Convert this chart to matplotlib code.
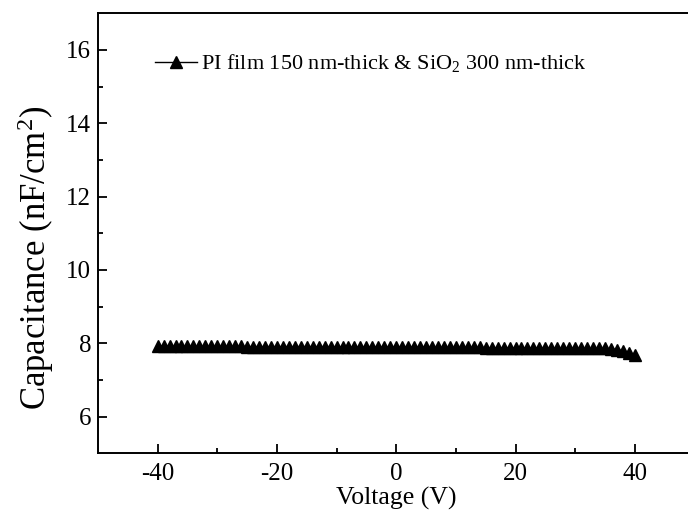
import numpy as np
import matplotlib
matplotlib.use('Agg')
import matplotlib.pyplot as plt

# Data: C-V sweep, 1 V steps
voltage = list(range(-40, 41))
capacitance = [
    7.93, 7.93, 7.93, 7.92, 7.92, 7.92, 7.92, 7.92, 7.92, 7.92,   # -40 .. -31
    7.92, 7.92, 7.92, 7.92, 7.92, 7.91, 7.91, 7.91, 7.91, 7.91,   # -30 .. -21
    7.91, 7.91, 7.91, 7.91, 7.91, 7.91, 7.91, 7.91, 7.91, 7.91,   # -20 .. -11
    7.90, 7.90, 7.90, 7.90, 7.90, 7.90, 7.90, 7.90, 7.90, 7.90,   # -10 .. -1
    7.90, 7.90, 7.90, 7.90, 7.90, 7.90, 7.89, 7.89, 7.89, 7.89,   # 0 .. 9
    7.89, 7.89, 7.89, 7.89, 7.89, 7.88, 7.88, 7.88, 7.88, 7.88,   # 10 .. 19
    7.88, 7.88, 7.88, 7.88, 7.87, 7.87, 7.87, 7.87, 7.87, 7.87,   # 20 .. 29
    7.87, 7.86, 7.86, 7.86, 7.86, 7.86, 7.85, 7.83, 7.80, 7.74,   # 30 .. 39
    7.67,                                                        # 40
]
series_label = r'PI film 150 nm-thick & SiO$_2$ 300 nm-thick'

plt.rcParams['font.family'] = ['Liberation Serif', 'DejaVu Serif']
plt.rcParams['mathtext.fontset'] = 'custom'
plt.rcParams['mathtext.rm'] = 'Liberation Serif'
plt.rcParams['mathtext.it'] = 'Liberation Serif'
plt.rcParams['axes.unicode_minus'] = False  # plain hyphen like the original

fig = plt.figure(figsize=(6.88, 5.18), dpi=100)
# right spine sits just past the image edge (cropped in the original)
ax = fig.add_axes([0.1424, 0.1249, 0.867, 0.8494])

ax.plot(voltage, capacitance, '-^', color='black', markersize=8, linewidth=1,
        label=series_label)

ax.set_xlim(-50, 50)
ax.set_ylim(5, 17)
ax.set_xticks([-40, -20, 0, 20, 40])
ax.set_xticks([-30, -10, 10, 30], minor=True)
ax.set_yticks([6, 8, 10, 12, 14, 16])
ax.set_yticks([7, 9, 11, 13, 15], minor=True)

ax.tick_params(which='both', direction='in', width=1.3, labelsize=18)
ax.tick_params(which='major', length=6.5)
ax.tick_params(which='minor', length=3.5)
ax.tick_params(axis='x', pad=7)
ax.tick_params(axis='y', pad=5)
for sp in ax.spines.values():
    sp.set_linewidth(1.4)

ax.set_xlabel('Voltage (V)', fontsize=18.5)
ax.xaxis.set_label_coords(0.5, -0.077)
ax.set_ylabel(r'Capacitance (nF/cm$^2$)', fontsize=25)
ax.yaxis.set_label_coords(-0.070, 0.443)

leg = ax.legend(loc='center left', bbox_to_anchor=(0.0956, 0.886), frameon=False,
                fontsize=16, handlelength=1.9, handletextpad=0.15,
                borderpad=0, borderaxespad=0)

fig.savefig('out.png', dpi=100)
